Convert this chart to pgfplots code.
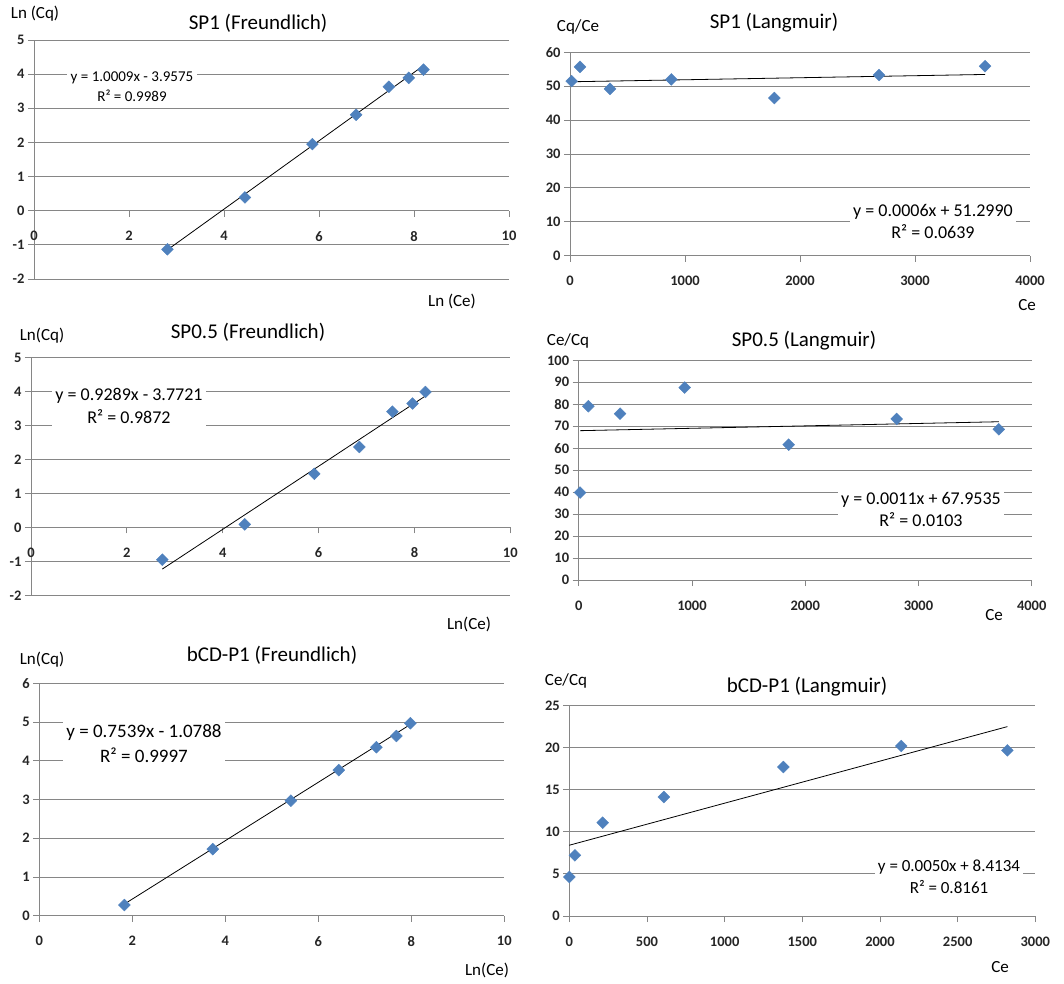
\documentclass[border=0pt]{standalone}
\usepackage{fontspec}
\setmainfont{Carlito}
\usepackage{pgfplots}
\pgfplotsset{compat=1.18}
\definecolor{mk}{RGB}{79,129,189}
\definecolor{gr}{RGB}{134,134,134}
\pgfplotsset{
  xl/.style={
    scale only axis,
    /pgf/number format/assume math mode=true,
    /pgf/number format/1000 sep={},
    tick label style={font=\fontsize{14.5}{18}\selectfont\bfseries, text=black!85},
    xticklabel style={yshift=-11pt},
    axis line style={gr, line width=0.9pt},
    major grid style={gr, line width=0.9pt},
    ymajorgrids,
    tick style={gr, line width=0.9pt},
    major tick length=6pt,
    tick align=outside,
    clip=false,
    axis y line*=left,
    hide obscured x ticks=false,
    hide obscured y ticks=false,
  },
  dots/.style={only marks, mark=square*, mark size=4.2pt,
    mark options={rotate=45, fill=mk, draw=mk}},
  trend/.style={black, line width=0.8pt, mark=none},
}
\newcommand{\fs}[1]{\fontsize{#1}{#1}\selectfont}
\begin{document}
\begin{tikzpicture}
\path[use as bounding box] (0,0) rectangle (1064pt,983pt);

% ---------- Panel 1: SP1 Freundlich ----------
\begin{axis}[xl, at={(34pt,704pt)}, anchor=south west, width=475pt, height=239pt,
  axis x line*=middle,
  xmin=0, xmax=10, ymin=-2, ymax=5,
  xtick={0,2,...,10}, ytick={-2,-1,...,5}]
\addplot[dots] coordinates {(2.81,-1.13) (4.44,0.39) (5.86,1.95) (6.78,2.81) (7.47,3.63) (7.89,3.89) (8.20,4.13)};
\addplot[trend] coordinates {(2.81,-1.145) (8.20,4.250)};
\end{axis}
\node[font=\fs{21}] at (258pt,960pt) {SP1 (Freundlich)};
\node[font=\fs{17}] at (35pt,969pt) {Ln (Cq)};
\node[font=\fs{17}] at (452pt,682pt) {Ln (Ce)};
\node[fill=white, align=center, font=\fontsize{15}{20}\selectfont] at (132pt,896pt) {y = 1.0009x - 3.9575\\R² = 0.9989};

% ---------- Panel 2: SP1 Langmuir ----------
\begin{axis}[xl, at={(570pt,727.3pt)}, anchor=south west, width=460pt, height=203.4pt,
  axis x line*=bottom,
  xmin=0, xmax=4000, ymin=0, ymax=60,
  xtick={0,1000,...,4000}, ytick={0,10,...,60}]
\addplot[dots] coordinates {(14,51.5) (87,55.7) (348,49.2) (881,52.0) (1777,46.5) (2687,53.3) (3609,55.9)};
\addplot[trend] coordinates {(14,51.307) (3609,53.464)};
\end{axis}
\node[font=\fs{21}] at (774pt,960pt) {SP1 (Langmuir)};
\node[font=\fs{17}] at (578pt,956pt) {Cq/Ce};
\node[font=\fs{17}] at (1027pt,678pt) {Ce};
\node[fill=white, align=center, font=\fontsize{18}{22}\selectfont] at (933pt,762pt) {y = 0.0006x + 51.2990\\R² = 0.0639};

% ---------- Panel 3: SP0.5 Freundlich ----------
\begin{axis}[xl, at={(31pt,387.7pt)}, anchor=south west, width=479.3pt, height=237.6pt,
  axis x line*=middle,
  xmin=0, xmax=10, ymin=-2, ymax=5,
  xtick={0,2,...,10}, ytick={-2,-1,...,5}]
\addplot[dots] coordinates {(2.74,-0.95) (4.46,0.09) (5.91,1.58) (6.85,2.37) (7.54,3.41) (7.96,3.65) (8.23,3.99)};
\addplot[trend] coordinates {(2.74,-1.227) (8.23,3.873)};
\end{axis}
\node[font=\fs{21}] at (248pt,651pt) {SP0.5 (Freundlich)};
\node[font=\fs{17}] at (42pt,647pt) {Ln(Cq)};
\node[font=\fs{17}] at (469pt,359pt) {Ln(Ce)};
\node[fill=white, align=center, font=\fontsize{18}{23}\selectfont] at (129pt,577.5pt) {y = 0.9289x - 3.7721\\R² = 0.9872};

% ---------- Panel 4: SP0.5 Langmuir ----------
\begin{axis}[xl, at={(578.7pt,403pt)}, anchor=south west, width=453pt, height=219.7pt,
  axis x line*=bottom,
  xmin=0, xmax=4000, ymin=0, ymax=100,
  xtick={0,1000,...,4000}, ytick={0,10,...,100}]
\addplot[dots] coordinates {(12,39.8) (85,79.1) (365,75.7) (936,87.6) (1854,61.6) (2808,73.3) (3709,68.6)};
\addplot[trend] coordinates {(12,67.967) (3709,72.033)};
\end{axis}
\node[font=\fs{21}] at (804pt,642pt) {SP0.5 (Langmuir)};
\node[font=\fs{17}] at (568pt,642pt) {Ce/Cq};
\node[font=\fs{17}] at (994pt,368pt) {Ce};
\node[fill=white, align=center, font=\fontsize{18}{22}\selectfont] at (921pt,474pt) {y = 0.0011x + 67.9535\\R² = 0.0103};

% ---------- Panel 5: bCD-P1 Freundlich ----------
\begin{axis}[xl, at={(39.3pt,67.3pt)}, anchor=south west, width=465pt, height=232.4pt,
  axis x line*=bottom,
  xmin=0, xmax=10, ymin=0, ymax=6,
  xtick={0,2,...,10}, ytick={0,1,...,6}]
\addplot[dots] coordinates {(1.83,0.275) (3.73,1.72) (5.41,2.97) (6.44,3.76) (7.25,4.35) (7.68,4.64) (7.98,4.97)};
\addplot[trend] coordinates {(1.83,0.301) (7.98,4.937)};
\end{axis}
\node[font=\fs{21}] at (272pt,328pt) {bCD-P1 (Freundlich)};
\node[font=\fs{17}] at (42pt,323pt) {Ln(Cq)};
\node[font=\fs{17}] at (487pt,13pt) {Ln(Ce)};
\node[fill=white, align=center, font=\fontsize{19}{25}\selectfont] at (144pt,239.5pt) {y = 0.7539x - 1.0788\\R² = 0.9997};

% ---------- Panel 6: bCD-P1 Langmuir ----------
\begin{axis}[xl, at={(569.3pt,67pt)}, anchor=south west, width=466pt, height=210.3pt,
  axis x line*=bottom,
  xmin=0, xmax=3000, ymin=0, ymax=25,
  xtick={0,500,...,3000}, ytick={0,5,...,25}]
\addplot[dots] coordinates {(0,4.64) (36,7.21) (215,11.09) (609,14.14) (1378,17.71) (2137,20.21) (2820,19.69)};
\addplot[trend] coordinates {(0,8.413) (2820,22.513)};
\end{axis}
\node[font=\fs{21}] at (807pt,296pt) {bCD-P1 (Langmuir)};
\node[font=\fs{17}] at (566pt,302pt) {Ce/Cq};
\node[font=\fs{17}] at (1000pt,16pt) {Ce};
\node[fill=white, align=center, font=\fontsize{17}{22}\selectfont] at (949pt,106pt) {y = 0.0050x + 8.4134\\R² = 0.8161};
\end{tikzpicture}
\end{document}
